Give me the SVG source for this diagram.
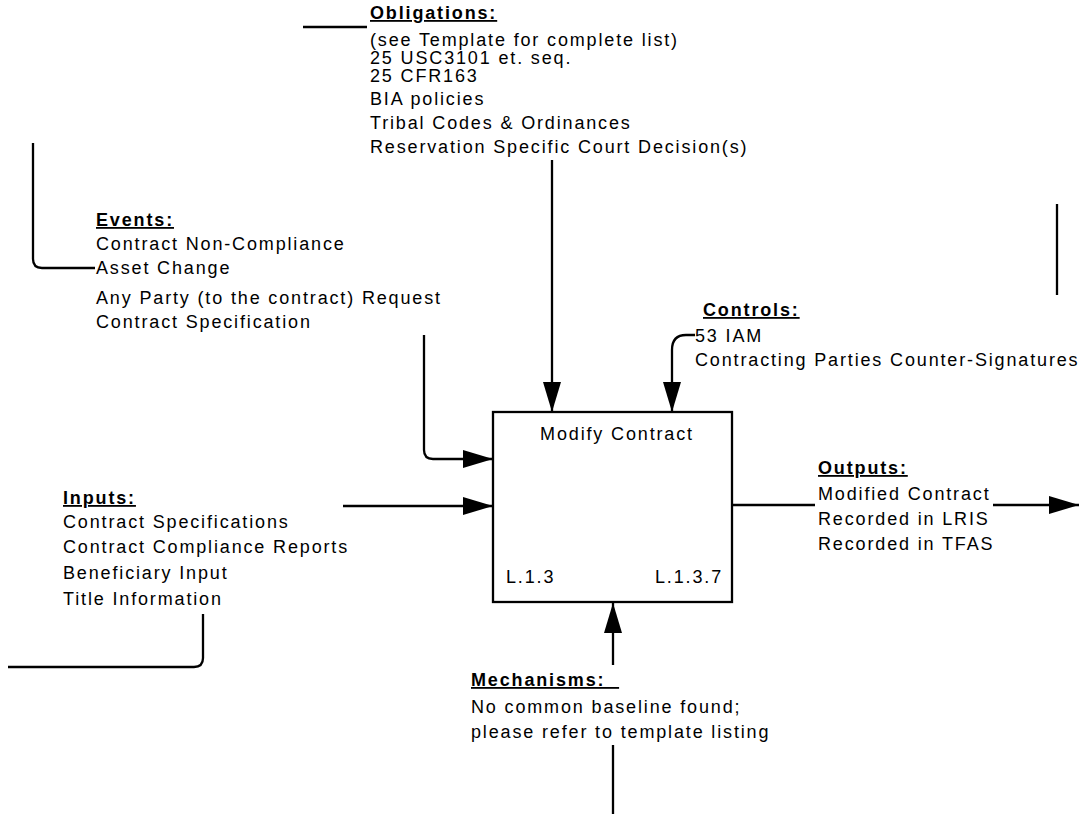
<svg xmlns="http://www.w3.org/2000/svg" width="1080" height="814" viewBox="0 0 1080 814">
  <style>
    text { font-family: "Liberation Sans", Arial, sans-serif; font-size: 18px; letter-spacing: 1.85px; fill: #000; }
    .hdr { font-weight: bold; text-decoration: underline; }
    .ln { fill: none; stroke: #000; stroke-width: 2.3; }
    .box { fill: #fff; stroke: #000; stroke-width: 2.3; }
  </style>
  <defs>
    <marker id="arrow" markerUnits="userSpaceOnUse" markerWidth="30" markerHeight="20" viewBox="0 0 30 20" refX="30" refY="10" orient="auto">
      <path d="M0 1 L30 10 L0 19 Z" fill="#000"/>
    </marker>
  </defs>

  <!-- connectors -->
  <g id="connectors">
    <path class="ln" d="M303 27 H367"/>
    <path class="ln" d="M552 160 V412" marker-end="url(#arrow)"/>
    <path class="ln" d="M695 335 H686 C677 335 672 340 672 350 V412" marker-end="url(#arrow)"/>
    <path class="ln" d="M33 143 V259 Q33 268 42 268 H95"/>
    <path class="ln" d="M424 335 V450 Q424 459 433 459 H493" marker-end="url(#arrow)"/>
    <path class="ln" d="M343 506 H493" marker-end="url(#arrow)"/>
    <path class="ln" d="M203 614 V658 Q203 667 194 667 H8"/>
    <path class="ln" d="M732 505 H815"/>
    <path class="ln" d="M993 505 H1079" marker-end="url(#arrow)"/>
    <path class="ln" d="M1057 204 V295"/>
    <path class="ln" d="M613 665 V603" marker-end="url(#arrow)"/>
    <path class="ln" d="M613 745 V814"/>
  </g>

  <!-- activity box -->
  <g id="modify-contract">
    <rect class="box" x="493" y="412" width="239" height="190"/>
    <text x="617" y="440" text-anchor="middle">Modify Contract</text>
    <text x="506" y="583">L.1.3</text>
    <text x="655" y="583">L.1.3.7</text>
  </g>

  <g id="obligations">
    <text class="hdr" x="370" y="19">Obligations:</text>
    <text x="370" y="46">(see Template for complete list)</text>
    <text x="370" y="64">25 USC3101 et. seq.</text>
    <text x="370" y="82">25 CFR163</text>
    <text x="370" y="105">BIA policies</text>
    <text x="370" y="129">Tribal Codes &amp; Ordinances</text>
    <text x="370" y="153">Reservation Specific Court Decision(s)</text>
  </g>

  <g id="events">
    <text class="hdr" x="96" y="226">Events:</text>
    <text x="96" y="250">Contract Non-Compliance</text>
    <text x="96" y="274">Asset Change</text>
    <text x="96" y="304" xml:space="preserve">Any Party (to the contract) Request</text>
    <text x="96" y="328">Contract Specification</text>
  </g>

  <g id="controls">
    <text class="hdr" x="703" y="316">Controls:</text>
    <text x="695" y="342">53 IAM</text>
    <text x="695" y="366">Contracting Parties Counter-Signatures</text>
  </g>

  <g id="inputs">
    <text class="hdr" x="63" y="504">Inputs:</text>
    <text x="63" y="528">Contract Specifications</text>
    <text x="63" y="553">Contract Compliance Reports</text>
    <text x="63" y="579">Beneficiary Input</text>
    <text x="63" y="605">Title Information</text>
  </g>

  <g id="outputs">
    <text class="hdr" x="818" y="474">Outputs:</text>
    <text x="818" y="500">Modified Contract</text>
    <text x="818" y="525">Recorded in LRIS</text>
    <text x="818" y="550">Recorded in TFAS</text>
  </g>

  <g id="mechanisms">
    <text class="hdr" x="471" y="686">Mechanisms:&#160;&#160;</text>
    <text x="471" y="713">No common baseline found;</text>
    <text x="471" y="738">please refer to template listing</text>
  </g>
</svg>
